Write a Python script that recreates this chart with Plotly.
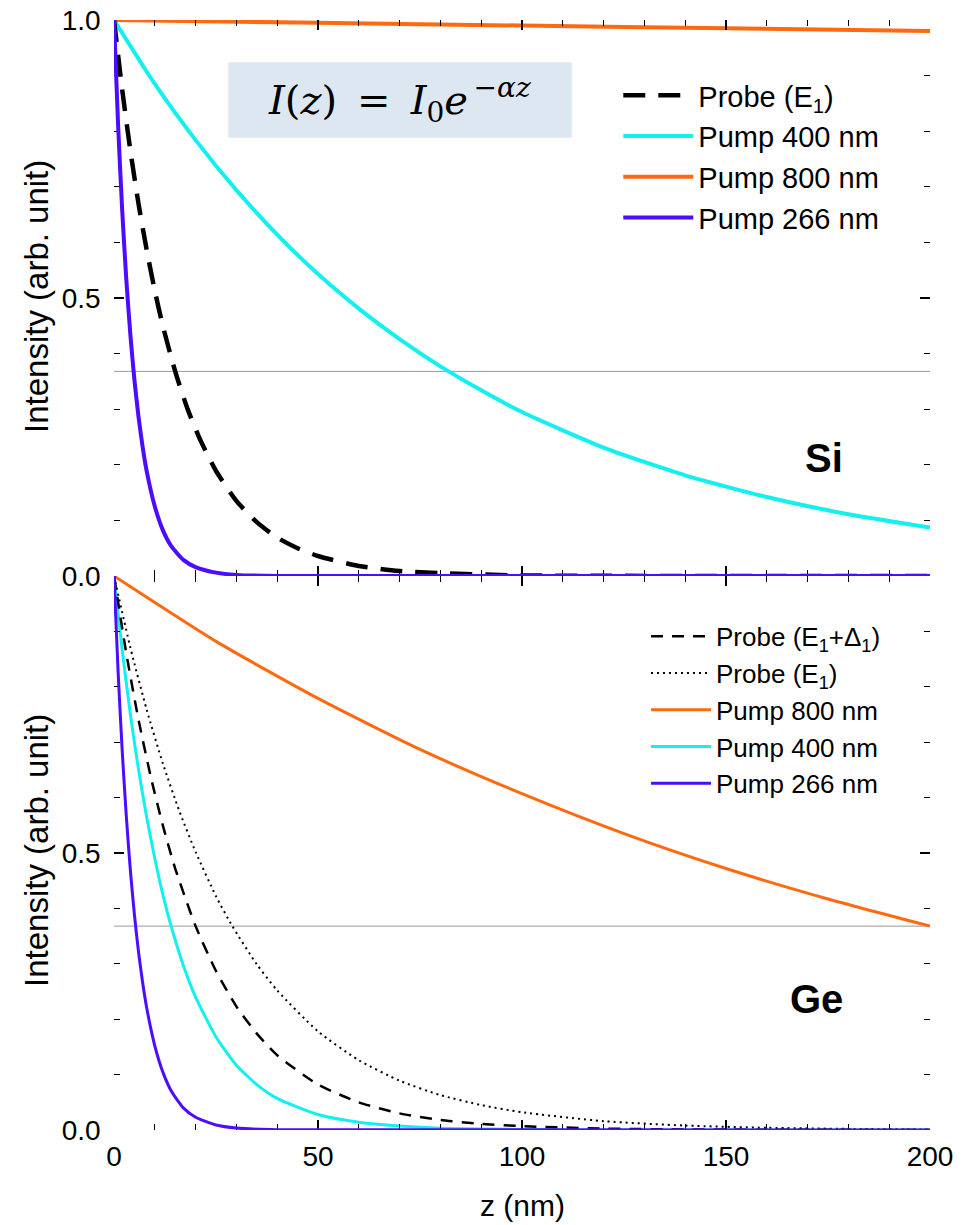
import plotly.graph_objects as go

# ---------------- Si panel (top) ----------------
si_probe_z = [0, 2, 4, 6, 8, 10, 12, 15, 18, 21, 25, 30, 35, 40, 45, 50, 60, 70, 80, 100, 120, 200]
si_probe_i = [1.0, 0.875, 0.766, 0.670, 0.587, 0.513, 0.449, 0.368, 0.301, 0.247, 0.189, 0.135,
              0.097, 0.069, 0.050, 0.036, 0.018, 0.009, 0.005, 0.001, 0.0003, 0.0]

si_p400_z = [0, 10, 20, 30, 40, 50, 60, 70, 80, 90, 100, 120, 140, 160, 180, 200]
si_p400_i = [1.0, 0.885, 0.784, 0.694, 0.614, 0.543, 0.481, 0.426, 0.377, 0.334, 0.295,
             0.231, 0.181, 0.142, 0.111, 0.087]

si_p800_z = [0, 50, 100, 150, 200]
si_p800_i = [1.0, 0.995, 0.990, 0.985, 0.980]

si_p266_z = [0, 1, 2, 3, 4, 5, 6, 7, 8, 10, 12, 14, 17, 20, 25, 30, 40, 200]
si_p266_i = [1.0, 0.812, 0.659, 0.535, 0.435, 0.353, 0.287, 0.233, 0.189, 0.125, 0.082,
             0.054, 0.029, 0.016, 0.006, 0.002, 0.0, 0.0]

# ---------------- Ge panel (bottom) ----------------
ge_probe_d_z = [0, 3, 6, 9, 12, 15, 20, 25, 30, 35, 40, 50, 60, 70, 80, 90, 100, 120, 140, 200]
ge_probe_d_i = [1.0, 0.861, 0.741, 0.638, 0.549, 0.472, 0.368, 0.287, 0.223, 0.174, 0.135,
                0.082, 0.050, 0.030, 0.018, 0.011, 0.007, 0.0025, 0.001, 0.0]

ge_probe_z = [0, 4, 8, 12, 16, 20, 25, 29, 35, 40, 50, 60, 70, 80, 90, 100, 120, 140, 160, 180, 200]
ge_probe_i = [1.0, 0.871, 0.759, 0.661, 0.576, 0.502, 0.422, 0.368, 0.299, 0.252, 0.178,
              0.126, 0.089, 0.063, 0.045, 0.032, 0.016, 0.008, 0.004, 0.002, 0.001]

ge_p800_z = [0, 25, 50, 75, 100, 125, 150, 175, 200]
ge_p800_i = [1.0, 0.882, 0.779, 0.687, 0.607, 0.535, 0.472, 0.417, 0.368]

ge_p400_z = [0, 2, 4, 6, 8, 10, 12, 14, 17, 20, 25, 30, 35, 40, 50, 60, 70, 80, 100, 120, 200]
ge_p400_i = [1.0, 0.867, 0.751, 0.651, 0.565, 0.490, 0.424, 0.368, 0.297, 0.240, 0.168,
             0.117, 0.082, 0.057, 0.028, 0.014, 0.007, 0.003, 0.001, 0.0, 0.0]

ge_p266_z = [0, 1, 2, 3, 4, 5, 6, 7, 8, 10, 12, 14, 17, 20, 25, 30, 40, 200]
ge_p266_i = [1.0, 0.828, 0.686, 0.568, 0.470, 0.389, 0.322, 0.267, 0.221, 0.152, 0.104,
             0.071, 0.040, 0.023, 0.009, 0.0035, 0.0005, 0.0]

E_FOLD = 0.368  # 1/e reference level

x_ticks = [0, 50, 100, 150, 200]

CYAN = "#14f0f0"
ORANGE = "#ff6a10"
PURPLE = "#4b0cff"
BLACK = "#000000"

FONT = "Arial, Liberation Sans, sans-serif"

fig = go.Figure()


def add_line(z, v, name, color, width, dash, yaxis, legend, zorder=0):
    fig.add_trace(go.Scatter(
        x=z, y=v, name=name, mode="lines",
        line=dict(color=color, width=width, dash=dash, shape="spline", smoothing=0.6),
        xaxis="x2" if yaxis == "y2" else "x", yaxis=yaxis,
        legend=legend, zorder=zorder,
    ))


# Si traces (top panel)
add_line(si_probe_z, si_probe_i, "Probe (E<sub>1</sub>)", BLACK, 4.5, "22px,13px", "y2", "legend", 1)
add_line(si_p400_z, si_p400_i, "Pump 400 nm", CYAN, 4, "solid", "y2", "legend", 0)
add_line(si_p800_z, si_p800_i, "Pump 800 nm", ORANGE, 4, "solid", "y2", "legend", 0)
add_line(si_p266_z, si_p266_i, "Pump 266 nm", PURPLE, 4, "solid", "y2", "legend", 2)

# Ge traces (bottom panel)
add_line(ge_probe_d_z, ge_probe_d_i, "Probe (E<sub>1</sub>+Δ<sub>1</sub>)", BLACK, 2.5, "12px,9px", "y", "legend2", 1)
add_line(ge_probe_z, ge_probe_i, "Probe (E<sub>1</sub>)", BLACK, 2, "2px,4px", "y", "legend2", 1)
add_line(ge_p800_z, ge_p800_i, "Pump 800 nm", ORANGE, 3, "solid", "y", "legend2", 0)
add_line(ge_p400_z, ge_p400_i, "Pump 400 nm", CYAN, 3, "solid", "y", "legend2", 0)
add_line(ge_p266_z, ge_p266_i, "Pump 266 nm", PURPLE, 3, "solid", "y", "legend2", 2)

split = 0.4991

axis_common = dict(
    showline=True, linecolor="black", linewidth=2.5, mirror="ticks",
    ticks="inside", ticklen=10, tickwidth=1.5, tickcolor="black",
    showgrid=False, zeroline=False, automargin=False,
    tickfont=dict(family=FONT, size=28, color="black"),
)
minor_common = dict(ticks="inside", ticklen=6, tickcolor="black", tickwidth=1.2)

fig.update_layout(
    width=974, height=1225,
    margin=dict(l=114, r=44, t=20, b=95, autoexpand=False),
    paper_bgcolor="white", plot_bgcolor="white",
    font=dict(family=FONT, color="black"),
    xaxis=dict(domain=[0, 1], anchor="y", range=[0, 200], tickvals=x_ticks,
               ticklabelstandoff=0,
               minor=dict(dtick=10, **minor_common), **axis_common),
    xaxis2=dict(domain=[0, 1], anchor="y2", matches="x", range=[0, 200], tickvals=x_ticks,
                showticklabels=False, minor=dict(dtick=10, **minor_common), **axis_common),
    yaxis=dict(domain=[0, split], anchor="x", range=[0, 1],
               tickvals=[0, 0.5], ticktext=["0.0", "0.5"], ticklabelstandoff=5,
               minor=dict(dtick=0.1, **minor_common), **axis_common),
    yaxis2=dict(domain=[split, 1], anchor="x2", range=[0, 1],
                tickvals=[0, 0.5, 1], ticktext=["0.0", "0.5", "1.0"], ticklabelstandoff=5,
                minor=dict(dtick=0.1, **minor_common), **axis_common),
    legend=dict(x=0.618, y=0.955, xanchor="left", yanchor="top",
                bgcolor="rgba(0,0,0,0)", font=dict(family=FONT, size=29),
                itemwidth=70, tracegroupgap=0),
    legend2=dict(x=0.652, y=0.466, xanchor="left", yanchor="top",
                 bgcolor="rgba(0,0,0,0)", font=dict(family=FONT, size=26),
                 itemwidth=60, tracegroupgap=0),
    showlegend=True,
)

# 1/e guide lines
for yref in ("y2", "y"):
    fig.add_shape(type="line", xref="x", yref=yref, x0=0, x1=200, y0=E_FOLD, y1=E_FOLD,
                  line=dict(color="#9a9a9a", width=1), layer="below")

# Equation box
fig.add_shape(type="rect", xref="paper", yref="paper", x0=0.140, x1=0.561, y0=0.894, y1=0.962,
              fillcolor="#dde7f2", line=dict(width=0), layer="below")
fig.add_annotation(
    xref="paper", yref="paper", x=0.350, y=0.928, xanchor="center", yanchor="middle",
    text="<i>I</i>(<i>z</i>)\u2002=\u2002<i>I</i><sub>0</sub><i>e</i><sup>\u2009−<i>αz</i></sup>",
    showarrow=False, font=dict(family="DejaVu Serif, Liberation Serif, serif", size=40, color="black"),
)

# Material labels
fig.add_annotation(xref="paper", yref="paper", x=(845 - 114) / 816, y=1 - (458 - 20) / 1110,
                   text="<b>Si</b>", showarrow=False, font=dict(family=FONT, size=40))
fig.add_annotation(xref="paper", yref="paper", x=(845 - 114) / 816, y=1 - (1023 - 20) / 1110,
                   text="<b>Ge</b>", showarrow=False, font=dict(family=FONT, size=40))

# Axis titles
for yc in (297, 851):
    fig.add_annotation(xref="paper", yref="paper", x=(36 - 114) / 816, y=1 - (yc - 20) / 1110,
                       text="Intensity (arb. unit)", textangle=-90, showarrow=False,
                       xanchor="center", yanchor="middle", font=dict(family=FONT, size=33))
fig.add_annotation(xref="paper", yref="paper", x=(522 - 114) / 816, y=-(1205 - 1130) / 1110,
                   text="z (nm)", showarrow=False, xanchor="center", yanchor="middle",
                   font=dict(family=FONT, size=30))

fig.write_html("out.html")
